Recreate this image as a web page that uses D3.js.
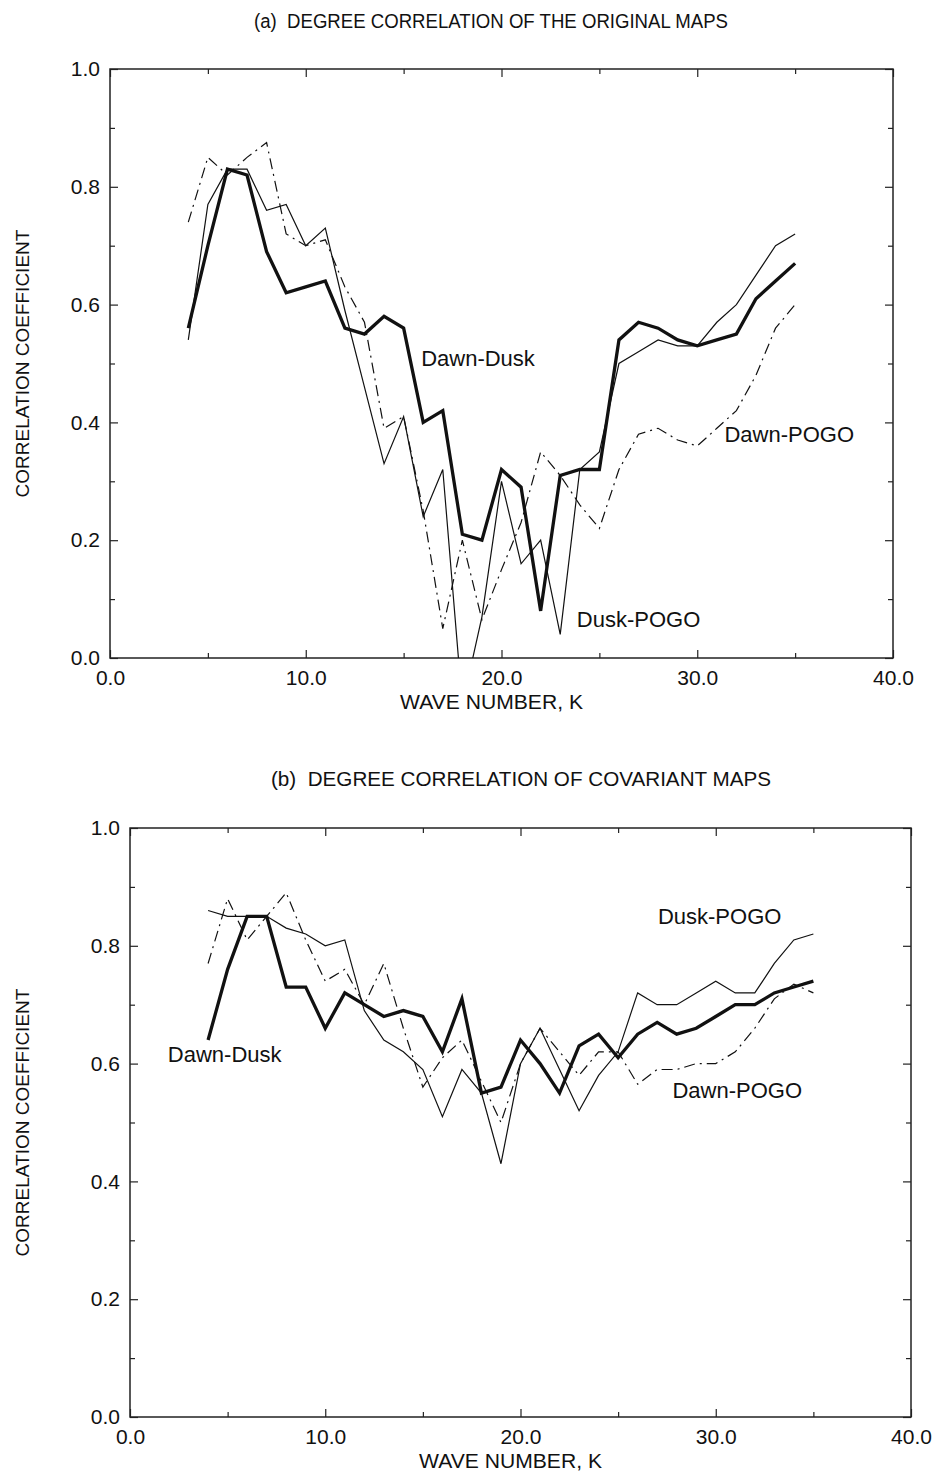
<!DOCTYPE html>
<html>
<head>
<meta charset="utf-8">
<script src="https://cdnjs.cloudflare.com/ajax/libs/d3/7.8.5/d3.min.js"></script>
<style>
  body { margin: 0; background: #fff; }
  svg { display: block; }
  text { font-family: "Liberation Sans", Arial, sans-serif; fill: #111; }
</style>
</head>
<body>
<script>
// wave numbers K shared by every curve
var waveK = [4, 5, 6, 7, 8, 9, 10, 11, 12, 13, 14, 15, 16, 17, 18, 19,
             20, 21, 22, 23, 24, 25, 26, 27, 28, 29, 30, 31, 32, 33, 34, 35];

// (a) original maps
var origDawnDusk = [0.56, 0.70, 0.83, 0.82, 0.69, 0.62, 0.63, 0.64, 0.56, 0.55, 0.58, 0.56, 0.40, 0.42, 0.21, 0.20,
                    0.32, 0.29, 0.08, 0.31, 0.32, 0.32, 0.54, 0.57, 0.56, 0.54, 0.53, 0.54, 0.55, 0.61, 0.64, 0.67];
var origDuskPogo = [0.54, 0.77, 0.83, 0.83, 0.76, 0.77, 0.70, 0.73, 0.59, 0.46, 0.33, 0.41, 0.24, 0.32, -0.08, 0.07,
                    0.30, 0.16, 0.20, 0.04, 0.32, 0.35, 0.50, 0.52, 0.54, 0.53, 0.53, 0.57, 0.60, 0.65, 0.70, 0.72];
var origDawnPogo = [0.74, 0.85, 0.82, 0.85, 0.875, 0.72, 0.70, 0.71, 0.63, 0.57, 0.39, 0.41, 0.25, 0.05, 0.20, 0.065,
                    0.15, 0.23, 0.35, 0.31, 0.26, 0.22, 0.32, 0.38, 0.39, 0.37, 0.36, 0.39, 0.42, 0.48, 0.56, 0.60];

// (b) covariant maps
var covDawnDusk = [0.64, 0.76, 0.85, 0.85, 0.73, 0.73, 0.66, 0.72, 0.70, 0.68, 0.69, 0.68, 0.62, 0.71, 0.55, 0.56,
                   0.64, 0.60, 0.55, 0.63, 0.65, 0.61, 0.65, 0.67, 0.65, 0.66, 0.68, 0.70, 0.70, 0.72, 0.73, 0.74];
var covDuskPogo = [0.86, 0.85, 0.85, 0.85, 0.83, 0.82, 0.80, 0.81, 0.69, 0.64, 0.62, 0.59, 0.51, 0.59, 0.55, 0.43,
                   0.60, 0.66, 0.59, 0.52, 0.58, 0.62, 0.72, 0.70, 0.70, 0.72, 0.74, 0.72, 0.72, 0.77, 0.81, 0.82];
var covDawnPogo = [0.77, 0.88, 0.81, 0.85, 0.89, 0.81, 0.74, 0.76, 0.70, 0.77, 0.66, 0.56, 0.61, 0.64, 0.57, 0.50,
                   0.60, 0.66, 0.62, 0.58, 0.62, 0.62, 0.565, 0.59, 0.59, 0.60, 0.60, 0.62, 0.66, 0.71, 0.735, 0.72];

var xMajor = [0, 10, 20, 30, 40];
var xMinor = [5, 15, 25, 35];
var yMajor = [0, 0.2, 0.4, 0.6, 0.8, 1.0];
var yMinor = [0.1, 0.3, 0.5, 0.7, 0.9];

var WIDTH = 935, HEIGHT = 1476;

var svg = d3.select("body").append("svg")
    .attr("width", WIDTH)
    .attr("height", HEIGHT);

// line styles: thick, thin, dash-dot
var styles = {
  thick: { w: 3.3, dash: null },
  thin: { w: 1.2, dash: null },
  dashdot: { w: 1.2, dash: "11,5,2,5" }
};

var panels = [
  {
    id: "a", title: "(a)  DEGREE CORRELATION OF THE ORIGINAL MAPS", titleX: 491, titleY: 21, titleW: 474,
    left: 110, right: 893, top: 69, bottom: 658,
    series: [
      { values: origDawnPogo, style: "dashdot" },
      { values: origDuskPogo, style: "thin" },
      { values: origDawnDusk, style: "thick" }
    ],
    labels: [
      { text: "Dawn-Dusk", k: 18.8, v: 0.509 },
      { text: "Dawn-POGO", k: 34.7, v: 0.379 },
      { text: "Dusk-POGO", k: 27.0, v: 0.066 }
    ]
  },
  {
    id: "b", title: "(b)  DEGREE CORRELATION OF COVARIANT MAPS", titleX: 521, titleY: 779, titleW: 500,
    left: 130, right: 911, top: 828, bottom: 1417,
    series: [
      { values: covDawnPogo, style: "dashdot" },
      { values: covDuskPogo, style: "thin" },
      { values: covDawnDusk, style: "thick" }
    ],
    labels: [
      { text: "Dusk-POGO", k: 30.2, v: 0.849 },
      { text: "Dawn-POGO", k: 31.1, v: 0.555 },
      { text: "Dawn-Dusk", k: 4.85, v: 0.616 }
    ]
  }
];

panels.forEach(function(p) {
  var x = d3.scaleLinear().domain([0, 40]).range([p.left, p.right]);
  var y = d3.scaleLinear().domain([0, 1]).range([p.bottom, p.top]);
  var g = svg.append("g");

  // title (condensed like the original typeface)
  g.append("text")
    .attr("x", p.titleX)
    .attr("y", p.titleY)
    .attr("text-anchor", "middle")
    .attr("dominant-baseline", "central")
    .attr("textLength", p.titleW)
    .attr("lengthAdjust", "spacingAndGlyphs")
    .style("white-space", "pre")
    .style("font-size", "20px")
    .text(p.title);

  g.append("clipPath").attr("id", "clip-" + p.id)
    .append("rect")
    .attr("x", p.left).attr("y", p.top)
    .attr("width", p.right - p.left).attr("height", p.bottom - p.top);

  // axes: inward ticks on all four sides
  var bottomMaj = d3.axisBottom(x).tickValues(xMajor).tickSize(-8).tickPadding(12)
      .tickFormat(d3.format(".1f"));
  var bottomMin = d3.axisBottom(x).tickValues(xMinor).tickSize(-5).tickFormat("");
  var topMaj = d3.axisTop(x).tickValues(xMajor).tickSize(-8).tickFormat("");
  var topMin = d3.axisTop(x).tickValues(xMinor).tickSize(-5).tickFormat("");
  var leftMaj = d3.axisLeft(y).tickValues(yMajor).tickSize(-8).tickPadding(10)
      .tickFormat(d3.format(".1f"));
  var leftMin = d3.axisLeft(y).tickValues(yMinor).tickSize(-5).tickFormat("");
  var rightMaj = d3.axisRight(y).tickValues(yMajor).tickSize(-8).tickFormat("");
  var rightMin = d3.axisRight(y).tickValues(yMinor).tickSize(-5).tickFormat("");

  [[bottomMaj, p.bottom, 0], [bottomMin, p.bottom, 0], [topMaj, p.top, 0], [topMin, p.top, 0],
   [leftMaj, 0, p.left], [leftMin, 0, p.left], [rightMaj, 0, p.right], [rightMin, 0, p.right]]
    .forEach(function(a) {
      var ax = g.append("g")
        .attr("transform", "translate(" + a[2] + "," + a[1] + ")")
        .call(a[0]);
      ax.select(".domain").remove();
      ax.selectAll("line").attr("stroke", "#222").attr("stroke-width", 1.2);
      ax.selectAll("text").style("font-size", "21px").attr("fill", "#111")
        .style("font-family", "'Liberation Sans', Arial, sans-serif");
    });

  // frame
  g.append("rect")
    .attr("x", p.left).attr("y", p.top)
    .attr("width", p.right - p.left).attr("height", p.bottom - p.top)
    .attr("fill", "none").attr("stroke", "#222").attr("stroke-width", 1.5);

  // axis titles
  g.append("text")
    .attr("x", (p.left + p.right) / 2 - 10)
    .attr("y", p.bottom + 43)
    .attr("text-anchor", "middle")
    .attr("dominant-baseline", "central")
    .attr("textLength", 183)
    .attr("lengthAdjust", "spacingAndGlyphs")
    .style("font-size", "21px")
    .text("WAVE NUMBER, K");

  g.append("text")
    .attr("transform", "translate(22," + ((p.top + p.bottom) / 2) + ") rotate(-90)")
    .attr("text-anchor", "middle")
    .attr("dominant-baseline", "central")
    .style("font-size", "19px")
    .text("CORRELATION COEFFICIENT");

  // curves
  var line = d3.line()
    .x(function(d) { return x(d[0]); })
    .y(function(d) { return y(d[1]); });

  p.series.forEach(function(s) {
    var st = styles[s.style];
    g.append("path")
      .datum(waveK.map(function(k, i) { return [k, s.values[i]]; }))
      .attr("clip-path", "url(#clip-" + p.id + ")")
      .attr("d", line)
      .attr("fill", "none")
      .attr("stroke", "#111")
      .attr("stroke-width", st.w)
      .attr("stroke-linejoin", "miter")
      .attr("stroke-dasharray", st.dash);
  });

  // curve names
  p.labels.forEach(function(l) {
    g.append("text")
      .attr("x", x(l.k))
      .attr("y", y(l.v))
      .attr("text-anchor", "middle")
      .attr("dominant-baseline", "central")
      .style("font-size", "22px")
      .text(l.text);
  });
});
</script>
</body>
</html>
